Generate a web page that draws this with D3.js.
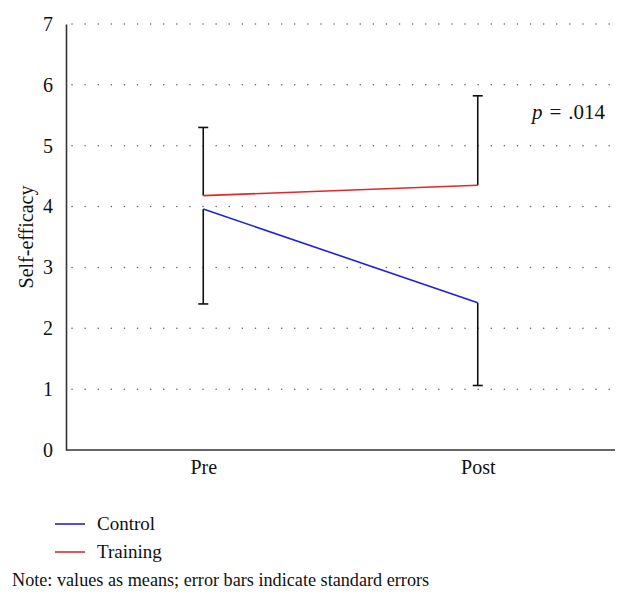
<!DOCTYPE html>
<html>
<head>
<meta charset="utf-8">
<script src="https://cdn.jsdelivr.net/npm/d3@7"></script>
<style>
  body { margin: 0; background: #fff; }
  text { font-family: "Liberation Serif", "DejaVu Serif", serif; fill: #111; }
</style>
</head>
<body>
<svg id="chart" width="630" height="611"></svg>
<script>
// ---- data ----
const timepoints = ["Pre", "Post"];
const controlMeans = [3.96, 2.42];
const controlLower = [2.40, 1.06];   // lower end of error bar (mean - SE)
const trainingMeans = [4.18, 4.35];
const trainingUpper = [5.30, 5.82];  // upper end of error bar (mean + SE)
const yTicks = [0, 1, 2, 3, 4, 5, 6, 7];
const seriesNames = ["Control", "Training"];
const seriesColors = ["#1f1fe0", "#e5262b"];
const pLabel = ".014";

// ---- layout ----
const svg = d3.select("#chart");
const mLeft = 66, mRight = 615, mTop = 24, mBottom = 450;

const x = d3.scalePoint().domain(timepoints).range([mLeft, mRight]).padding(0.5);
const y = d3.scaleLinear().domain([0, 7]).range([mBottom, mTop]);

// gridlines (dotted)
svg.append("g").selectAll("line")
  .data(yTicks.filter(d => d > 0))
  .join("line")
  .attr("x1", mLeft + 6).attr("x2", mRight)
  .attr("y1", d => y(d)).attr("y2", d => y(d))
  .attr("stroke", "#666")
  .attr("stroke-width", 1.5)
  .attr("stroke-linecap", "round")
  .attr("stroke-dasharray", "0.1,13");

// y axis
const yAxis = d3.axisLeft(y).tickValues(yTicks).tickSize(0).tickPadding(13).tickFormat(d3.format("d"));
const gy = svg.append("g").attr("transform", `translate(${mLeft},0)`).call(yAxis);
gy.select(".domain").attr("stroke", "#333").attr("stroke-width", 1.6);
gy.selectAll("text").attr("font-size", 20).attr("fill", "#111");

// x axis
const xAxis = d3.axisBottom(x).tickSize(0).tickPadding(10);
const gx = svg.append("g").attr("transform", `translate(0,${mBottom})`).call(xAxis);
gx.select(".domain").attr("d", `M${mLeft},0H${mRight}`).attr("stroke", "#333").attr("stroke-width", 1.6);
gx.selectAll("text").attr("font-size", 20).attr("fill", "#111");

// y label
svg.append("text")
  .attr("transform", `translate(33,${(mTop + mBottom) / 2}) rotate(-90)`)
  .attr("text-anchor", "middle")
  .attr("font-size", 20)
  .text("Self-efficacy");

// error bars
const capW = 5;
const errG = svg.append("g").attr("stroke", "#111").attr("stroke-width", 1.6).attr("fill", "none");
timepoints.forEach((t, i) => {
  errG.append("line").attr("x1", x(t)).attr("x2", x(t)).attr("y1", y(trainingMeans[i])).attr("y2", y(trainingUpper[i]));
  errG.append("line").attr("x1", x(t) - capW).attr("x2", x(t) + capW).attr("y1", y(trainingUpper[i])).attr("y2", y(trainingUpper[i]));
  errG.append("line").attr("x1", x(t)).attr("x2", x(t)).attr("y1", y(controlMeans[i])).attr("y2", y(controlLower[i]));
  errG.append("line").attr("x1", x(t) - capW).attr("x2", x(t) + capW).attr("y1", y(controlLower[i])).attr("y2", y(controlLower[i]));
});

// lines
const line = d3.line().x((d, i) => x(timepoints[i])).y(d => y(d));
[controlMeans, trainingMeans].forEach((vals, k) => {
  svg.append("path")
    .datum(vals)
    .attr("d", line)
    .attr("fill", "none")
    .attr("stroke", seriesColors[k])
    .attr("stroke-width", 1.6);
});

// p value
const pt = svg.append("text")
  .attr("x", 532).attr("y", 119)
  .attr("font-size", 21);
pt.append("tspan").attr("font-style", "italic").text("p");
pt.append("tspan").attr("dx", 7).text("=");
pt.append("tspan").attr("dx", 7).text(pLabel);

// legend
const legend = svg.append("g");
seriesNames.forEach((name, k) => {
  const ly = 524 + k * 28;
  legend.append("line")
    .attr("x1", 55).attr("x2", 85).attr("y1", ly).attr("y2", ly)
    .attr("stroke", seriesColors[k]).attr("stroke-width", 1.6);
  legend.append("text")
    .attr("x", 97).attr("y", ly + 6)
    .attr("font-size", 19)
    .text(name);
});

// note
svg.append("text")
  .attr("x", 12).attr("y", 586)
  .attr("font-size", 18.2)
  .text("Note: values as means; error bars indicate standard errors");
</script>
</body>
</html>
